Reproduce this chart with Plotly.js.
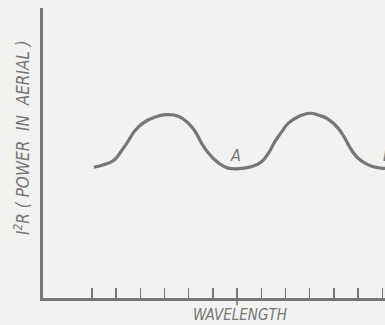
<!DOCTYPE html>
<html>
<head>
<meta charset="utf-8">
<script src="https://cdn.plot.ly/plotly-3.0.1.min.js"></script>
<style>
html,body{margin:0;padding:0;background:#f2f2f0;}
#chart{width:385px;height:325px;}
</style>
</head>
<body>
<div id="chart"></div>
<script>
// wavelength position in tick units, power in arbitrary units
const wavelength = [0.08, 0.52, 0.94, 1.21, 1.49, 1.76, 2.11, 2.59, 3.06, 3.57, 3.98, 4.26, 4.53, 4.81, 5.22, 5.63, 6.19, 6.60, 7.01, 7.29, 7.56, 7.84, 8.11, 8.52, 9.01, 9.35, 9.76, 10.18, 10.45, 10.73, 11.00, 11.42, 11.83, 12.11, 12.50];
const power      = [4.51, 4.60, 4.77, 5.06, 5.40, 5.75, 6.03, 6.23, 6.32, 6.27, 6.03, 5.75, 5.34, 5.00, 4.66, 4.48, 4.47, 4.53, 4.70, 4.99, 5.39, 5.73, 6.02, 6.25, 6.37, 6.31, 6.17, 5.85, 5.51, 5.10, 4.82, 4.59, 4.49, 4.47, 4.47];
const tickPositions = [0,1,2,3,4,5,6,7,8,9,10,11,12];
const pointLabels = ['A', 'B'];
const labelX = [5.95, 11.95];
const labelY = [4.93, 4.93];

const ink = '#767676';
const handFont = 'Liberation Sans Narrow, DejaVu Sans Condensed, Arial Narrow, sans-serif';

const trace = {
  x: wavelength, y: power, type: 'scatter', mode: 'lines',
  line: {color: ink, width: 3.2, shape: 'spline', smoothing: 1.3},
  hoverinfo: 'skip', cliponaxis: true
};

const layout = {
  width: 385, height: 325,
  margin: {l: 43, r: 0, t: 8, b: 27},
  paper_bgcolor: '#f2f2f0', plot_bgcolor: '#f2f2f0',
  showlegend: false,
  xaxis: {
    range: [-2.02, 12.11], showgrid: false, zeroline: false,
    showline: true, linecolor: ink, linewidth: 3,
    tickmode: 'array', tickvals: tickPositions, showticklabels: false,
    ticks: 'inside', ticklen: 10, tickwidth: 1.5, tickcolor: ink,
    fixedrange: true
  },
  yaxis: {
    range: [0, 10], showgrid: false, zeroline: false,
    showline: true, linecolor: ink, linewidth: 3,
    showticklabels: false, ticks: '', fixedrange: true
  },
  shapes: [{
    type: 'line', xref: 'x', yref: 'paper',
    x0: tickPositions[6], x1: tickPositions[6], y0: 0, y1: -0.025,
    line: {color: ink, width: 1.5}
  }],
  annotations: [
    {text: pointLabels[0], x: labelX[0], y: labelY[0], xref: 'x', yref: 'y', showarrow: false,
     font: {family: handFont, size: 16, color: ink, style: 'italic'}},
    {text: pointLabels[1], x: labelX[1], y: labelY[1], xref: 'x', yref: 'y', showarrow: false, xanchor: 'left',
     font: {family: handFont, size: 16, color: ink, style: 'italic'}},
    {text: 'WAVELENGTH', x: (240 - 43) / 342, y: (298 - 315) / 290, xref: 'paper', yref: 'paper', showarrow: false,
     xanchor: 'center', yanchor: 'middle',
     font: {family: handFont, size: 15, color: ink, style: 'italic'}},
    {text: 'I<sup>2</sup>R ( POWER  IN  AERIAL )', xref: 'paper', yref: 'paper',
     x: (22 - 43) / 342, y: (298 - 138) / 290, textangle: -90, showarrow: false,
     xanchor: 'center', yanchor: 'middle',
     font: {family: handFont, size: 17, color: ink, style: 'italic'}}
  ]
};

Plotly.newPlot('chart', [trace], layout, {displayModeBar: false, staticPlot: true});
</script>
</body>
</html>
